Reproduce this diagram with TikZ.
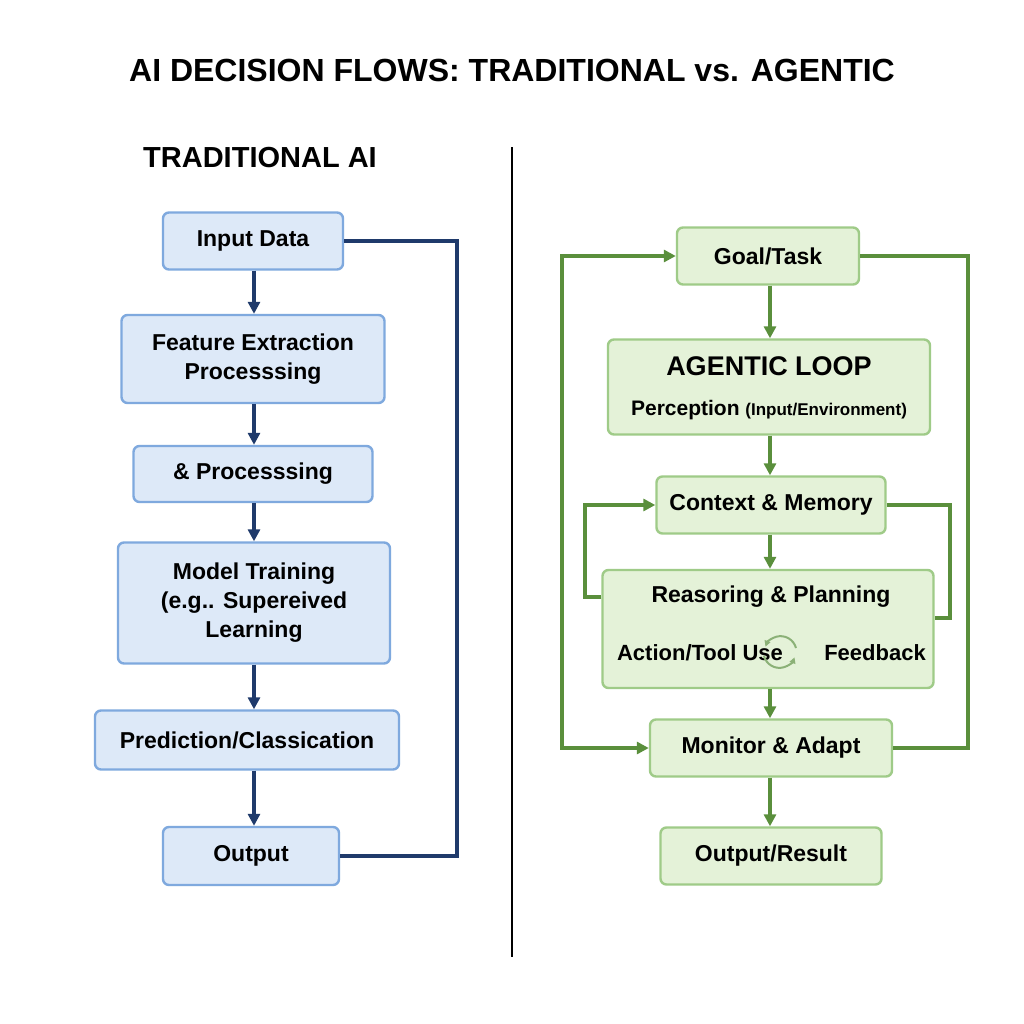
\documentclass[tikz,border=0pt]{standalone}
\usepackage{fontspec}
\setmainfont{Liberation Sans}
\usetikzlibrary{arrows.meta,calc}
\definecolor{bfill}{HTML}{DDE9F8}\definecolor{bdraw}{HTML}{7FA9DE}\definecolor{bline}{HTML}{1F3A6B}
\definecolor{gfill}{HTML}{E4F2D8}\definecolor{gdraw}{HTML}{9FCB88}\definecolor{gline}{HTML}{5A8F3C}
\begin{document}
\begin{tikzpicture}[x=0.5pt,y=-0.5pt,
 bbox/.style={draw=bdraw,fill=bfill,line width=1.2pt,rounded corners=3pt,align=center,font=\bfseries\fontsize{11.5}{14.5}\selectfont,text=black,inner sep=0pt},
 gbox/.style={draw=gdraw,fill=gfill,line width=1.2pt,rounded corners=3pt,align=center,font=\bfseries\fontsize{11.5}{14.5}\selectfont,text=black,inner sep=0pt},
 barr/.style={draw=bline,line width=1.6pt,-{Triangle[length=6pt,width=6pt]}},
 bln/.style={draw=bline,line width=1.6pt},
 garr/.style={draw=gline,line width=1.6pt,-{Triangle[length=6pt,width=6pt]}},
 gln/.style={draw=gline,line width=1.6pt}]
\useasboundingbox[fill=white] (0,0) rectangle (1024,1024);
\node[font=\bfseries\fontsize{16}{20}\selectfont] (title) at (512,70) {AI DECISION FLOWS: TRADITIONAL vs. AGENTIC};
\node[font=\bfseries\fontsize{14.5}{18}\selectfont] (sub) at (260,158) {TRADITIONAL AI};
\draw[black,line width=0.8pt] (512,147) coordinate (d1) -- (512,957) coordinate (d2);
% left
\node[bbox,minimum width=90pt,minimum height=28.5pt] (in) at (253,241) {Input Data};
\node[bbox,minimum width=131.5pt,minimum height=44pt] (fe) at (253,359) {Feature Extraction\\Processsing};
\node[bbox,minimum width=119.5pt,minimum height=28pt] (pr) at (253,474) {\& Processsing};
\node[bbox,minimum width=136pt,minimum height=60.5pt] (mt) at (254,603) {Model Training\\(e.g.. Supereived\\Learning};
\node[bbox,minimum width=152pt,minimum height=29.5pt] (pc) at (247,740) {Prediction/Classication};
\node[bbox,minimum width=88pt,minimum height=29pt] (out) at (251,856) {Output};
\draw[barr] (in.south-|254,0) -- (fe.north-|254,0);
\draw[barr] (fe.south-|254,0) -- (pr.north-|254,0);
\draw[barr] (pr.south-|254,0) -- (mt.north-|254,0);
\draw[barr] (mt.south-|254,0) -- (pc.north-|254,0);
\draw[barr] (pc.south-|254,0) -- (out.north-|254,0);
\draw[bln] (in.east) -- (457,241) -- (457,856) -- (out.east);
% right
\node[gbox,minimum width=91pt,minimum height=28.5pt] (goal) at (768,256) {Goal/Task};
\node[gbox,minimum width=161pt,minimum height=47.5pt] (ag) at (769,387) {};
\node[font=\bfseries\fontsize{13.5}{16}\selectfont] (agt) at (769,366) {AGENTIC LOOP};
\node[font=\bfseries\fontsize{10.5}{13}\selectfont] (per) at (769,410) {Perception {\fontsize{8.5}{11}\selectfont(Input/Environment)}};
\node[gbox,minimum width=114.5pt,minimum height=28.5pt] (ctx) at (771,505) {Context \& Memory};
\node[gbox,minimum width=165.5pt,minimum height=59pt] (rp) at (768,629) {};
\node[font=\bfseries\fontsize{11.5}{14.5}\selectfont] (rpt) at (771,597) {Reasoring \& Planning};
\node[font=\bfseries\fontsize{11}{14}\selectfont] (act) at (700,653) {Action/Tool Use};
\node[font=\bfseries\fontsize{11}{14}\selectfont] (fb) at (875,653) {Feedback};
\coordinate (cyc) at (780,652);
\draw[gline!70,line width=1pt,-{Triangle[length=3pt,width=3pt]}] ($(cyc)+(16,-4)$) arc (-15:-160:16);
\draw[gline!70,line width=1pt,-{Triangle[length=3pt,width=3pt]}] ($(cyc)+(-16,4)$) arc (165:20:16);
\node[gbox,minimum width=121pt,minimum height=28.5pt] (mon) at (771,748) {Monitor \& Adapt};
\node[gbox,minimum width=110.5pt,minimum height=28.5pt] (res) at (771,856) {Output/Result};
\draw[garr] (goal.south-|770,0) -- (ag.north-|770,0);
\draw[garr] (ag.south-|770,0) -- (ctx.north-|770,0);
\draw[garr] (ctx.south-|770,0) -- (rp.north-|770,0);
\draw[garr] (rp.south-|770,0) -- (mon.north-|770,0);
\draw[garr] (mon.south-|770,0) -- (res.north-|770,0);
\draw[garr] (562,748) -- (562,256) -- (goal.west);
\draw[garr] (562,700) -- (562,748) -- (mon.west);
\draw[gln] (goal.east) -- (968,256) -- (968,748) -- (mon.east);
\draw[garr] (rp.west|-0,597) -- (585,597) -- (585,505) -- (ctx.west);
\draw[gln] (ctx.east) -- (950,505) -- (950,618) -- (rp.east|-0,618);
\end{tikzpicture}
\end{document}
